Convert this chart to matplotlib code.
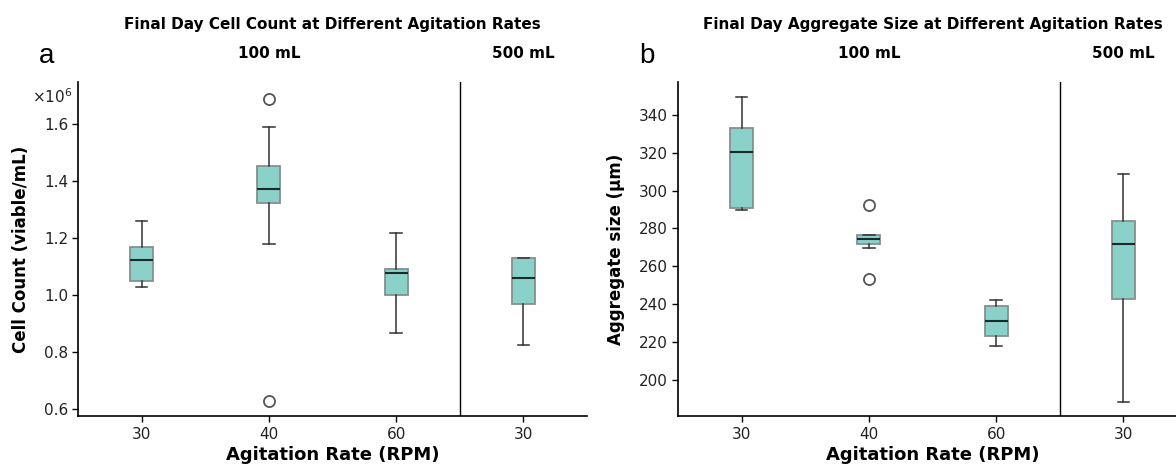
import matplotlib
matplotlib.use("Agg")
import matplotlib.pyplot as plt
from matplotlib.ticker import FuncFormatter
from matplotlib.transforms import blended_transform_factory

plt.rcParams['font.family'] = ['DejaVu Sans']

# categories (the last one is the 500 mL vessel)
rpm_labels = ["30", "40", "60", "30"]
volume_labels = ["100 mL", "500 mL"]

# panel a: final day cell count (viable cells/mL), box statistics
count_whislo = [1.028e6, 1.179e6, 0.866e6, 0.825e6]
count_q1 = [1.048e6, 1.322e6, 0.999e6, 0.967e6]
count_med = [1.121e6, 1.371e6, 1.078e6, 1.058e6]
count_q3 = [1.168e6, 1.454e6, 1.090e6, 1.128e6]
count_whishi = [1.258e6, 1.590e6, 1.217e6, 1.128e6]
count_fliers = [[], [1.687e6, 0.627e6], [], []]

# panel b: final day aggregate size (um)
size_whislo = [289.5, 269.5, 217.9, 188.6]
size_q1 = [290.9, 271.9, 223.0, 242.9]
size_med = [320.1, 274.4, 231.3, 271.6]
size_q3 = [332.8, 276.5, 238.9, 283.9]
size_whishi = [349.2, 276.7, 242.0, 308.9]
size_fliers = [[], [292.2, 253.1], [], []]

BOX_FILL = "#8ad1c9"
BOX_EDGE = "#85918f"


def make_stats(whislo, q1, med, q3, whishi, fliers):
    return [
        dict(whislo=a, q1=b, med=c, q3=d, whishi=e, fliers=f)
        for a, b, c, d, e, f in zip(whislo, q1, med, q3, whishi, fliers)
    ]


def draw_panel(fig, ax, stats, title, ylabel, letter, ylim, yticks, fmt=None):
    ax.bxp(
        stats,
        positions=range(len(stats)),
        widths=0.18,
        patch_artist=True,
        showfliers=True,
        boxprops=dict(facecolor=BOX_FILL, edgecolor=BOX_EDGE, linewidth=1.3),
        medianprops=dict(color="#1b2b2a", linewidth=1.5),
        whiskerprops=dict(color="#333333", linewidth=1.1),
        capprops=dict(color="#333333", linewidth=1.1),
        flierprops=dict(marker="o", markerfacecolor="none", markeredgecolor="#555555",
                        markersize=8, markeredgewidth=1.3),
        capwidths=0.09,
    )
    ax.set_xlim(-0.5, len(stats) - 0.5)
    ax.set_ylim(*ylim)
    ax.set_yticks(yticks)
    if fmt is not None:
        ax.yaxis.set_major_formatter(fmt)
    ax.set_xticks(range(len(stats)))
    ax.set_xticklabels(rpm_labels)
    ax.axvline(2.5, color="black", linewidth=1.0)

    for side in ["top", "right"]:
        ax.spines[side].set_visible(False)
    for side in ["left", "bottom"]:
        ax.spines[side].set_linewidth(1.2)
    ax.tick_params(direction="out", length=4, width=1, labelsize=11, pad=3,
                   colors="black", labelcolor="#222222")
    ax.tick_params(axis="x", pad=4)

    ax.set_xlabel("Agitation Rate (RPM)", fontsize=13, fontweight="bold", labelpad=3)
    ax.set_ylabel(ylabel, fontsize=12, fontweight="bold", labelpad=10)

    # title, volume headers and panel letter
    bbox = ax.get_position()
    fig.text((bbox.x0 + bbox.x1) / 2, 0.938, title, ha="center", va="baseline",
             fontsize=11, fontweight="bold")
    trans = blended_transform_factory(ax.transData, fig.transFigure)
    ax.text(1, 0.8755, volume_labels[0], transform=trans, ha="center", va="baseline",
            fontsize=11, fontweight="bold")
    ax.text(3, 0.8755, volume_labels[1], transform=trans, ha="center", va="baseline",
            fontsize=11, fontweight="bold")
    fig.text(bbox.x0 - 0.0265, 0.8654, letter, ha="center", va="baseline", fontsize=20,
             family="Liberation Sans")


fig = plt.figure(figsize=(11.76, 4.68), dpi=100)
ax_a = fig.add_axes([0.0663, 0.1111, 0.4328, 0.7137])
ax_b = fig.add_axes([0.5765, 0.1111, 0.4328, 0.7137])

draw_panel(
    fig, ax_a,
    make_stats(count_whislo, count_q1, count_med, count_q3, count_whishi, count_fliers),
    "Final Day Cell Count at Different Agitation Rates",
    "Cell Count (viable/mL)", "a",
    (0.5756e6, 1.747e6), [0.6e6, 0.8e6, 1.0e6, 1.2e6, 1.4e6, 1.6e6],
    FuncFormatter(lambda v, p: f"{v / 1e6:.1f}"),
)
ax_a.text(-0.01, 0.955, "×10$^6$", transform=ax_a.transAxes, ha="right", va="center",
          fontsize=11, color="#222222")

draw_panel(
    fig, ax_b,
    make_stats(size_whislo, size_q1, size_med, size_q3, size_whishi, size_fliers),
    "Final Day Aggregate Size at Different Agitation Rates",
    "Aggregate size (µm)", "b",
    (181, 357.3), [200, 220, 240, 260, 280, 300, 320, 340],
)

fig.savefig("out.png", dpi=100)
